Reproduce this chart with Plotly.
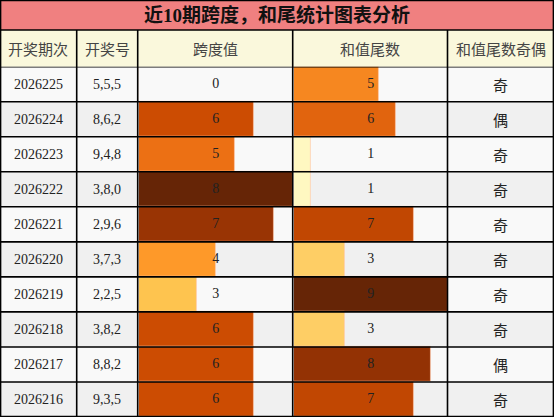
import plotly.graph_objects as go
from plotly.colors import sample_colorscale

# ---- data ----
issues = ["2026225", "2026224", "2026223", "2026222", "2026221",
          "2026220", "2026219", "2026218", "2026217", "2026216"]
draws = ["5,5,5", "8,6,2", "9,4,8", "3,8,0", "2,9,6",
         "3,7,3", "2,2,5", "3,8,2", "8,8,2", "9,3,5"]
spans = [0, 6, 5, 8, 7, 4, 3, 6, 6, 6]
tails = [5, 6, 1, 1, 7, 3, 9, 3, 8, 7]
parity = ["奇", "偶", "奇", "奇", "奇", "奇", "奇", "奇", "偶", "奇"]
headers = ["开奖期次", "开奖号", "跨度值", "和值尾数", "和值尾数奇偶"]
title = "近10期跨度，和尾统计图表分析"

# ---- layout constants (pixels) ----
W, H = 554, 417
col_edges = [0, 76.7, 137.7, 292.7, 447.5, 554]
title_bottom = 30
header_bottom = 66.7
n = len(issues)

def px_x(v):
    return v / W

def px_y(v):
    return 1 - v / H

rows_top_paper = px_y(header_bottom)
span_max = max(spans)
tail_max = max(tails)

fig = go.Figure()

span_colors = sample_colorscale("YlOrBr", [v / span_max for v in spans])
tail_colors = sample_colorscale("YlOrBr", [v / tail_max for v in tails])
rows = list(range(n))

fig.add_trace(go.Bar(
    x=spans, y=rows, orientation="h", width=1, xaxis="x", yaxis="y",
    marker=dict(color=span_colors, line=dict(color="rgba(255,200,170,0.8)", width=0.8)),
    hoverinfo="skip", showlegend=False))
fig.add_trace(go.Bar(
    x=tails, y=rows, orientation="h", width=1, xaxis="x2", yaxis="y",
    marker=dict(color=tail_colors, line=dict(color="rgba(255,200,170,0.8)", width=0.8)),
    hoverinfo="skip", showlegend=False))

num_font = dict(family="Liberation Serif, Times New Roman, serif", size=14, color="#222")
fig.add_trace(go.Scatter(
    x=[span_max / 2] * n, y=rows, mode="text", text=[str(v) for v in spans],
    textfont=num_font, xaxis="x", yaxis="y", hoverinfo="skip", showlegend=False))
fig.add_trace(go.Scatter(
    x=[tail_max / 2] * n, y=rows, mode="text", text=[str(v) for v in tails],
    textfont=num_font, xaxis="x2", yaxis="y", hoverinfo="skip", showlegend=False))

shapes = []
# title & header backgrounds
shapes.append(dict(type="rect", xref="paper", yref="paper", x0=0, x1=1,
                   y0=px_y(title_bottom), y1=1, fillcolor="#F08080",
                   line=dict(width=0), layer="below"))
shapes.append(dict(type="rect", xref="paper", yref="paper", x0=0, x1=1,
                   y0=rows_top_paper, y1=px_y(title_bottom), fillcolor="#FAF8DC",
                   line=dict(width=0), layer="below"))
# row stripes
for i in rows:
    shapes.append(dict(type="rect", xref="paper", yref="y", x0=0, x1=1,
                       y0=i - 0.5, y1=i + 0.5,
                       fillcolor="#F9F9F9" if i % 2 == 0 else "#F0F0F0",
                       line=dict(width=0), layer="below"))
# grid lines
lw = 1.6
for e in col_edges[1:-1]:
    shapes.append(dict(type="line", xref="paper", yref="paper", x0=px_x(e), x1=px_x(e),
                       y0=0, y1=px_y(title_bottom), line=dict(color="black", width=lw)))
for i in range(n + 1):
    shapes.append(dict(type="line", xref="paper", yref="y", x0=0, x1=1,
                       y0=i - 0.5, y1=i - 0.5, line=dict(color="black", width=lw)))
for yy in [title_bottom]:
    shapes.append(dict(type="line", xref="paper", yref="paper", x0=0, x1=1,
                       y0=px_y(yy), y1=px_y(yy), line=dict(color="black", width=lw)))
shapes.append(dict(type="rect", xref="paper", yref="paper", x0=0.001, x1=0.999,
                   y0=0.001, y1=0.999, line=dict(color="black", width=lw)))

annotations = []
annotations.append(dict(text="<b>" + title + "</b>", xref="paper", yref="paper",
                        x=0.5, y=px_y(title_bottom / 2), showarrow=False,
                        xanchor="center", yanchor="middle",
                        font=dict(family="Liberation Serif, Noto Sans CJK SC", size=19, color="#111")))
hdr_y = px_y((title_bottom + header_bottom) / 2)
for k, h in enumerate(headers):
    cx = (col_edges[k] + col_edges[k + 1]) / 2
    annotations.append(dict(text=h, xref="paper", yref="paper", x=px_x(cx), y=hdr_y,
                            showarrow=False, xanchor="center", yanchor="middle",
                            font=dict(family="Noto Sans CJK SC", size=15, color="#444")))
for i in rows:
    for k, (txt, fam, sz) in enumerate([
            (issues[i], "Liberation Serif", 14),
            (draws[i], "Liberation Serif", 14)]):
        cx = (col_edges[k] + col_edges[k + 1]) / 2
        annotations.append(dict(text=txt, xref="paper", yref="y", x=px_x(cx), y=i,
                                showarrow=False, xanchor="center", yanchor="middle",
                                font=dict(family=fam, size=sz, color="#222")))
    cx = (col_edges[4] + col_edges[5]) / 2
    annotations.append(dict(text=parity[i], xref="paper", yref="y", x=px_x(cx), y=i,
                            showarrow=False, xanchor="center", yanchor="middle",
                            font=dict(family="Noto Sans CJK SC", size=15, color="#222")))

axis_common = dict(showgrid=False, zeroline=False, showticklabels=False,
                   ticks="", showline=False, fixedrange=True)
fig.update_layout(
    width=W, height=H, margin=dict(l=0, r=0, t=0, b=0),
    paper_bgcolor="white", plot_bgcolor="rgba(0,0,0,0)",
    barmode="overlay", bargap=0,
    xaxis=dict(domain=[px_x(col_edges[2]) + 0.002, px_x(col_edges[3])],
               range=[0, span_max], **axis_common),
    xaxis2=dict(domain=[px_x(col_edges[3]) + 0.002, px_x(col_edges[4])],
                range=[0, tail_max], **axis_common),
    yaxis=dict(domain=[0, rows_top_paper], range=[n - 0.5, -0.5], **axis_common),
    shapes=shapes, annotations=annotations,
)

fig.write_html("out.html", config={"displayModeBar": False},
               post_script="document.body.style.margin='0';document.body.style.overflow='hidden';")
